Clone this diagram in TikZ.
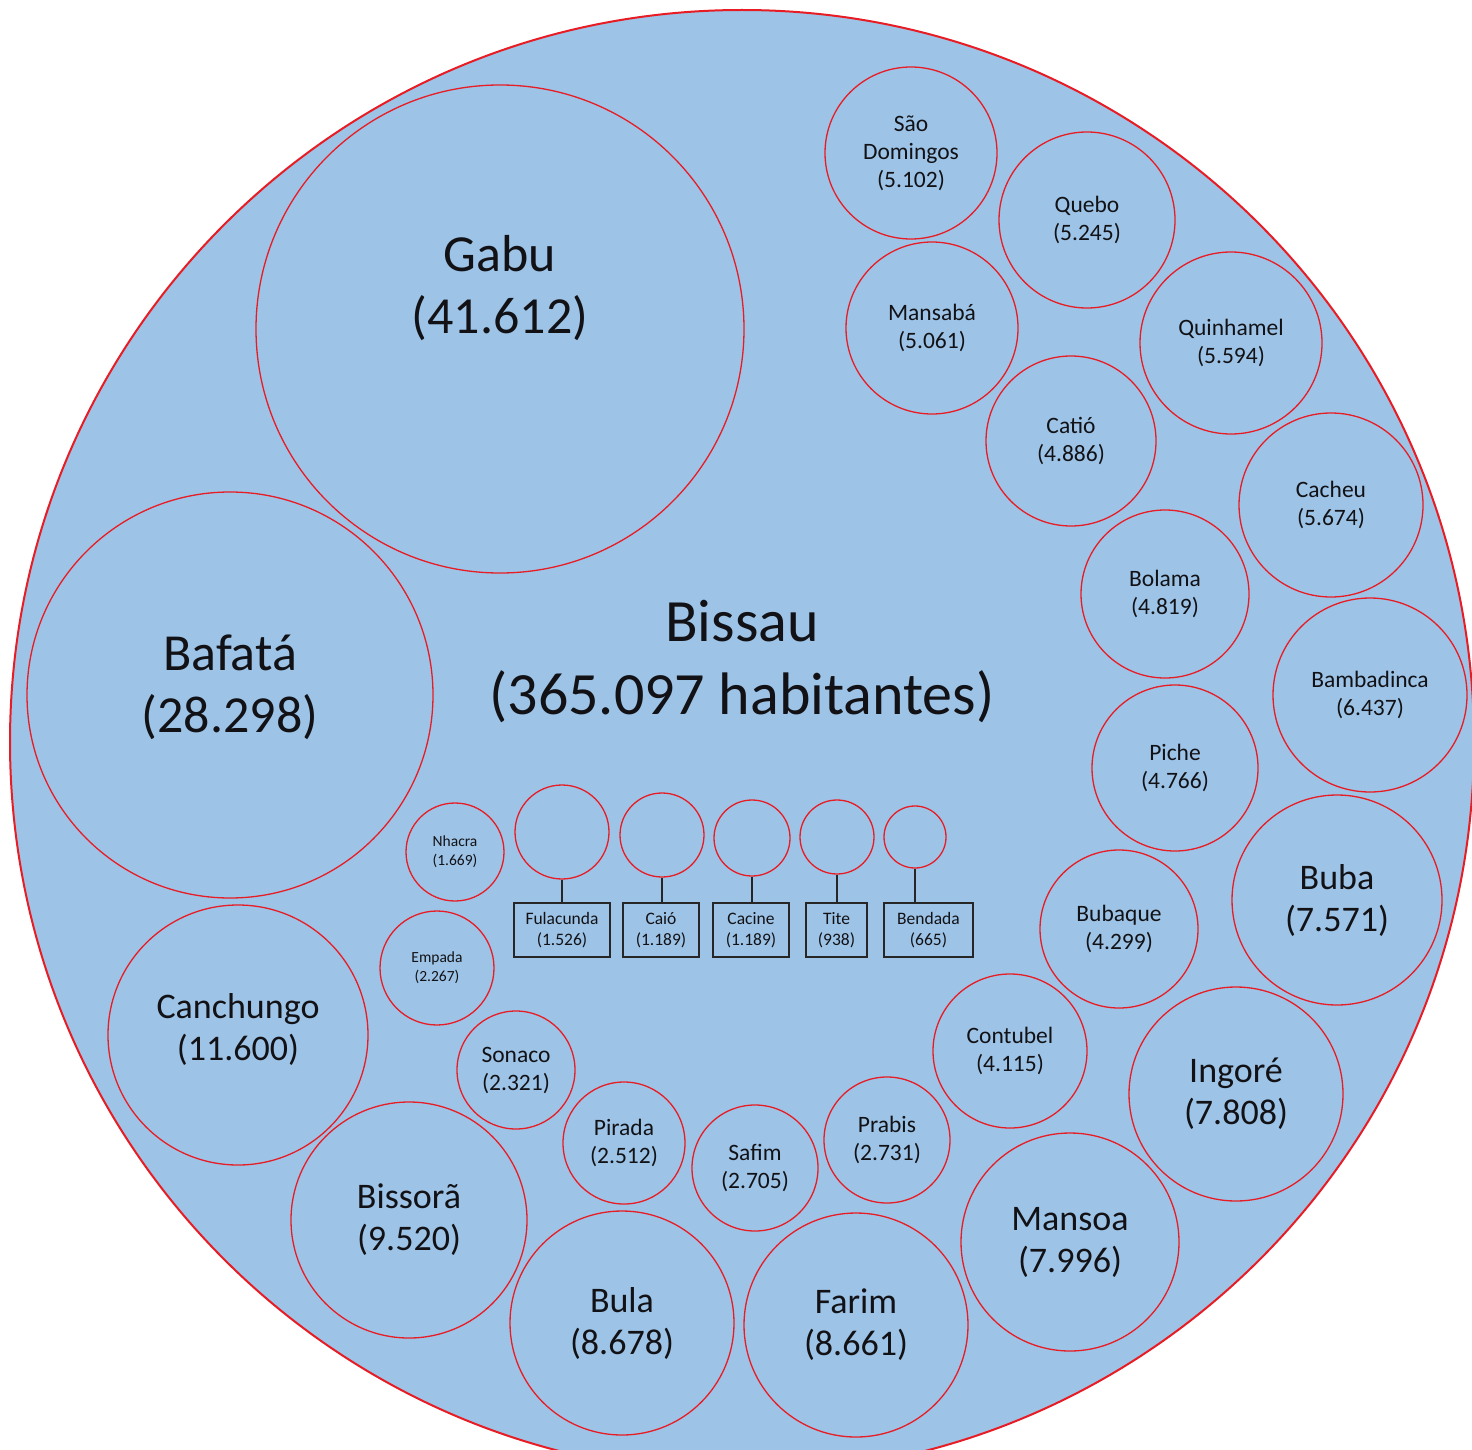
\documentclass[tikz,border=0pt]{standalone}
\usepackage{fontspec}
\setmainfont{Carlito}
\definecolor{poolfill}{RGB}{157,195,230}
\definecolor{poolline}{RGB}{232,28,36}
\definecolor{inktext}{RGB}{18,18,22}
\tikzset{
	town/.style={circle, draw=poolline, fill=poolfill, line width=1.3pt, inner sep=0pt, align=center, text=inktext},
	tag/.style={rectangle, draw=black!85, line width=1.2pt, inner sep=0pt, align=center, text=inktext, minimum height=54pt},
	stem/.style={draw=black!85, line width=1.3pt},
	txtA/.style={font=\fontsize{60}{73}\selectfont},
	txtB/.style={font=\fontsize{52}{62}\selectfont},
	txtC/.style={font=\fontsize{36}{42}\selectfont},
	txtD/.style={font=\fontsize{23.5}{28}\selectfont},
	txtE/.style={font=\fontsize{15.5}{19}\selectfont},
	txtF/.style={font=\fontsize{17.5}{21}\selectfont}
}
\begin{document}
\begin{tikzpicture}[x=1pt,y=-1pt]
	\useasboundingbox (0,0) rectangle (1472,1450);
	\clip (0,0) rectangle (1472,1450);
	%capital----------------------------------
	 \draw[fill=poolfill, draw=poolline, line width=2pt] (742,742) circle (732);
	 \node[txtA, align=center, text=inktext] (bissau) at (742,662) {Bissau\\(365.097 habitantes)}; %Bissau label
	%large towns------------------------------
		\node[town, minimum size=488pt] (gabu) at (500,329) {}; %Gabu
		\node[txtB, align=center, text=inktext] (gabutxt) at ([yshift=41pt]gabu.center) {Gabu\\(41.612)}; %Gabu label
		\node[town, minimum size=406pt] (bafata) at (230,695) {}; %Bafata
		\node[txtB, align=center, text=inktext] (bafatatxt) at ([yshift=8pt]bafata.center) {Bafatá\\(28.298)}; %Bafata label
		\node[town, minimum size=260pt] (canchungo) at (238,1035) {}; %Canchungo
		\node[txtC, align=center, text=inktext] (canchungotxt) at ([yshift=6pt]canchungo.center) {Canchungo\\(11.600)}; %Canchungo label
		\node[town, txtC, minimum size=236pt] (bissora) at (409,1220) {Bissorã\\(9.520)};
		\node[town, txtC, minimum size=224pt] (bula) at (622,1323) {Bula\\(8.678)};
		\node[town, txtC, minimum size=224pt] (farim) at (856,1325) {Farim\\(8.661)};
		\node[town, txtC, minimum size=218pt] (mansoa) at (1070,1242) {Mansoa\\(7.996)};
		\node[town, txtC, minimum size=214pt] (ingore) at (1236,1094) {Ingoré\\(7.808)};
		\node[town, txtC, minimum size=210pt] (buba) at (1337,900) {Buba\\(7.571)};
	%medium towns-----------------------------
		\node[town, txtD, minimum size=194pt] (bambadinca) at (1370,695) {Bambadinca\\(6.437)};
		\node[town, txtD, minimum size=184pt] (cacheu) at (1331,505) {Cacheu\\(5.674)};
		\node[town, txtD, minimum size=182pt] (quinhamel) at (1231,343) {Quinhamel\\(5.594)};
		\node[town, txtD, minimum size=176pt] (quebo) at (1087,220) {Quebo\\(5.245)};
		\node[town, txtD, minimum size=172pt] (saodomingos) at (911,153) {São\\Domingos\\(5.102)};
		\node[town, txtD, minimum size=172pt] (mansaba) at (932,328) {Mansabá\\(5.061)};
		\node[town, txtD, minimum size=170pt] (catio) at (1071,441) {Catió\\(4.886)};
		\node[town, txtD, minimum size=168pt] (bolama) at (1165,594) {Bolama\\(4.819)};
		\node[town, txtD, minimum size=166pt] (piche) at (1175,768) {Piche\\(4.766)};
		\node[town, txtD, minimum size=158pt] (bubaque) at (1119,929) {Bubaque\\(4.299)};
		\node[town, txtD, minimum size=154pt] (contubel) at (1010,1051) {Contubel\\(4.115)};
		\node[town, txtD, minimum size=126pt] (prabis) at (887,1140) {Prabis\\(2.731)};
		\node[town, txtD, minimum size=126pt] (safim) at (755,1168) {Safim\\(2.705)};
		\node[town, txtD, minimum size=122pt] (pirada) at (624,1143) {Pirada\\(2.512)};
		\node[town, txtD, minimum size=118pt] (sonaco) at (516,1070) {Sonaco\\(2.321)};
	%small towns------------------------------
		\node[town, txtE, minimum size=114pt] (empada) at (437,968) {Empada\\(2.267)};
		\node[town, txtE, minimum size=98pt] (nhacra) at (455,852) {Nhacra\\(1.669)};
		%circles with boxes
		\node[town, minimum size=94pt] (fulacundac) at (562,832) {};
		\node[town, minimum size=84pt] (caioc) at (662,835) {};
		\node[town, minimum size=76pt] (cacinec) at (752,838) {};
		\node[town, minimum size=74pt] (titec) at (837,837) {};
		\node[town, minimum size=62pt] (bendadac) at (915,837) {};
		\node[tag, txtF, minimum width=96pt] (fulacunda) at (562,930) {Fulacunda\\(1.526)};
		\node[tag, txtF, minimum width=76pt] (caio) at (661,930) {Caió\\(1.189)};
		\node[tag, txtF, minimum width=76pt] (cacine) at (751,930) {Cacine\\(1.189)};
		\node[tag, txtF, minimum width=61pt] (tite) at (836.5,930) {Tite\\(938)};
		\node[tag, txtF, minimum width=89pt] (bendada) at (928.5,930) {Bendada\\(665)};
		%stems
		\draw[stem] (fulacundac.south) -- (fulacundac.south |- fulacunda.north);
		\draw[stem] (caioc.south) -- (caioc.south |- caio.north);
		\draw[stem] (cacinec.south) -- (cacinec.south |- cacine.north);
		\draw[stem] (titec.south) -- (titec.south |- tite.north);
		\draw[stem] (bendadac.south) -- (bendadac.south |- bendada.north);
\end{tikzpicture}
\end{document}
